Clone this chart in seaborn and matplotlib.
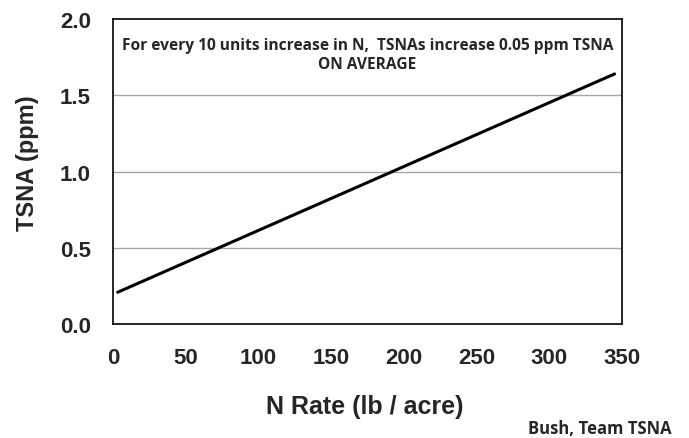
import matplotlib
matplotlib.use("Agg")
import matplotlib.pyplot as plt
import seaborn as sns
import pandas as pd

# data
n_rate = [3, 345]
tsna_ppm = [0.21, 1.64]
x_ticks = [0, 50, 100, 150, 200, 250, 300, 350]
y_ticks = [0.0, 0.5, 1.0, 1.5, 2.0]

sns.set_style("white")
plt.rcParams['font.family'] = ['Liberation Sans', 'DejaVu Sans']

df = pd.DataFrame({'n_rate': n_rate, 'tsna': tsna_ppm})

fig = plt.figure(figsize=(6.89, 4.39), dpi=100)
ax = fig.add_axes([0.1645, 0.259, 0.738, 0.6955])

# grid lines at the inner y ticks
for y in y_ticks[1:-1]:
    ax.axhline(y, color='#a6a6a6', linewidth=1, zorder=0)

sns.lineplot(data=df, x='n_rate', y='tsna', color='black', linewidth=2.2, ax=ax)

ax.set_xlim(0, 350)
ax.set_ylim(0, 2.0)
ax.set_xticks(x_ticks)
ax.set_yticks(y_ticks)
ax.set_xticklabels([str(v) for v in x_ticks], fontsize=16, fontweight='bold')
ax.set_yticklabels([f'{v:.1f}' for v in y_ticks], fontsize=16, fontweight='bold')
ax.tick_params(axis='both', direction='out', length=6, width=1, color='#a6a6a6', pad=10)

for side in ['top', 'right', 'bottom', 'left']:
    ax.spines[side].set_visible(True)
    ax.spines[side].set_color('black')
    ax.spines[side].set_linewidth(1.2)

ax.set_xlabel('N Rate (lb / acre)', fontsize=18, fontweight='bold')
ax.set_ylabel('TSNA (ppm)', fontsize=17, fontweight='bold')
ax.xaxis.set_label_coords(0.495, -0.228)
ax.yaxis.set_label_coords(-0.146, 0.53)

ax.text(0.5, 0.94, 'For every 10 units increase in N,  TSNAs increase 0.05 ppm TSNA\nON AVERAGE',
        transform=ax.transAxes, ha='center', va='top', fontsize=11.2, fontweight='bold',
        family=['Open Sans', 'DejaVu Sans'], linespacing=1.25)

fig.text(0.975, 0.003, 'Bush, Team TSNA', ha='right', va='bottom', fontsize=12,
         fontweight='bold', family=['Open Sans', 'DejaVu Sans'])

fig.savefig('out.png', dpi=100)
